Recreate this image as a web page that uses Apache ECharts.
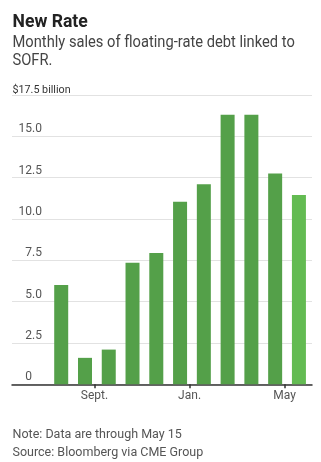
<!DOCTYPE html>
<html><head><meta charset="utf-8">
<script src="https://cdn.jsdelivr.net/npm/echarts@6/dist/echarts.min.js"></script>
<style>html,body{margin:0;padding:0;background:#fff}#c{width:321px;height:462px}</style>
</head><body><div id="c"></div>
<script>
const months = ['Jul.', 'Aug.', 'Sept.', 'Oct.', 'Nov.', 'Dec.', 'Jan.', 'Feb.', 'March', 'April', 'May'];
const sales = [6.0, 1.6, 2.1, 7.35, 7.95, 11.05, 12.1, 16.3, 16.3, 12.75, 11.45];
const partial = [false, false, false, false, false, false, false, false, false, false, true];
const xTickLabels = ['Sept.', 'Jan.', 'May'];
const yTicks = [0, 2.5, 5.0, 7.5, 10.0, 12.5, 15.0, 17.5];

const FONT = "Roboto, 'Noto Sans', sans-serif";
const chart = echarts.init(document.getElementById('c'), null, {renderer: 'canvas'});
const tickIdx = xTickLabels.map(l => months.indexOf(l));

function txt(text, x, y, size, opts) {
  opts = opts || {};
  return {type: 'text', x: x, y: y, scaleX: opts.sx || 1, originX: 0, originY: 0, silent: true,
    style: {text: text, fontFamily: FONT, fontSize: size, fontWeight: opts.bold ? 'bold' : 'normal',
      fill: opts.color || '#333', lineHeight: opts.lh || size, verticalAlign: 'top', align: 'left'}};
}

chart.setOption({
  animation: false,
  graphic: [
    txt('New Rate', 12.5, 13, 18.5, {bold: true, color: '#222', sx: 0.95}),
    txt('Monthly sales of floating-rate debt linked to\nSOFR.', 12.5, 33, 17.4, {color: '#444', sx: 0.845, lh: 18.6}),
    txt('$' + yTicks[yTicks.length - 1] + ' billion', 12.5, 84.3, 11.3, {color: '#333', sx: 0.95}),
    txt('Note: Data are through May 15\nSource: Bloomberg via CME Group', 12.5, 426, 12.5, {color: '#555', lh: 17.6})
  ],
  grid: {left: 12, right: 9, top: 95, bottom: 77.7, containLabel: false},
  xAxis: {
    type: 'value', min: -1.47, max: 11.15,
    axisLine: {show: true, lineStyle: {color: '#333', width: 1.5}},
    axisTick: {show: true, customValues: tickIdx, length: 4, lineStyle: {color: '#333', width: 1.5}},
    axisLabel: {show: true, customValues: tickIdx, formatter: v => months[Math.round(v)], margin: 6,
      fontFamily: FONT, fontSize: 12, color: '#555'},
    splitLine: {show: false}
  },
  yAxis: {
    type: 'value', min: yTicks[0], max: yTicks[yTicks.length - 1], interval: 2.5,
    axisLine: {show: false}, axisTick: {show: false},
    splitLine: {show: true, lineStyle: {color: '#e2e2e2', width: 1}},
    axisLabel: {inside: true, align: 'right', margin: 30, verticalAlign: 'bottom',
      fontFamily: FONT, fontSize: 12, color: '#555', lineHeight: 14,
      formatter: v => {
        if (v === 17.5) return '';
        if (v === 0) return '{z|0}';
        return v.toFixed(1);
      },
      rich: {z: {fontFamily: FONT, fontSize: 12, color: '#555', padding: [0, 10, 0, 0]}}
    }
  },
  series: [{
    type: 'bar', barWidth: 14,
    data: sales.map((v, i) => ({value: [i + 0.6, v], itemStyle: {color: partial[i] ? '#63bb52' : '#54a049'}}))
  }]
});
</script></body></html>
